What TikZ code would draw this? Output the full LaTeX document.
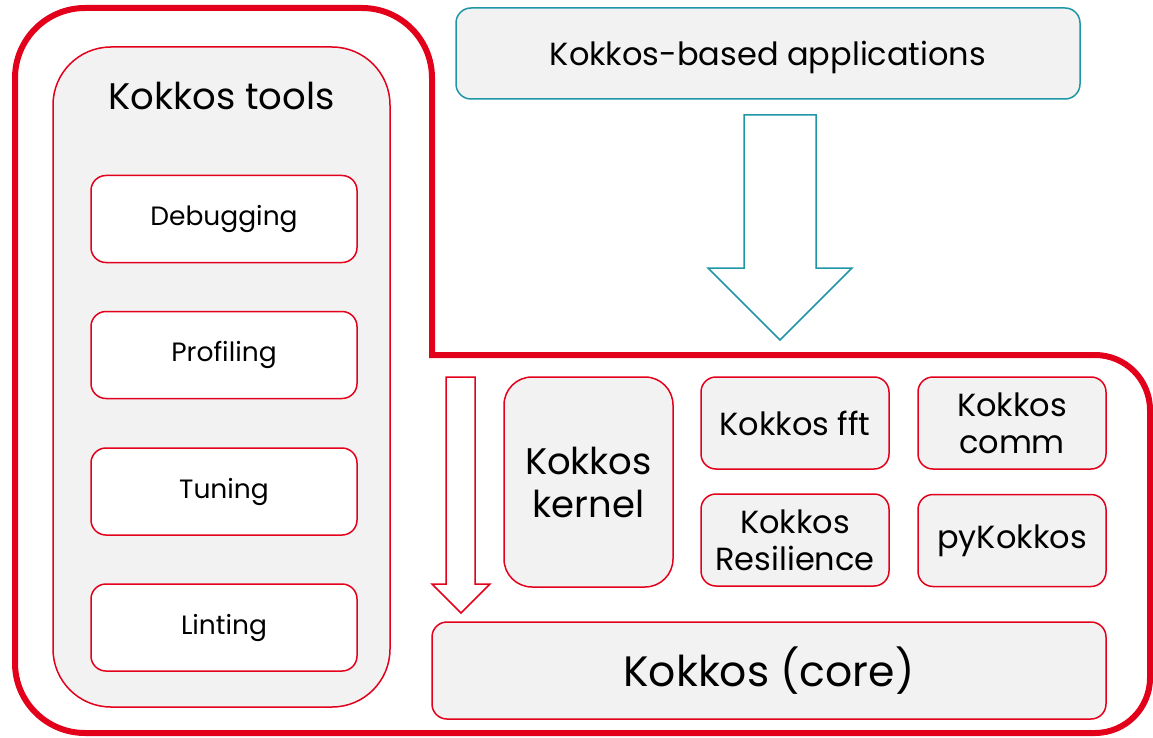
\documentclass[tikz,border=0pt]{standalone}
\usepackage{fontspec}
\setmainfont{Poppins}
\definecolor{kred}{RGB}{227,0,27}
\definecolor{kteal}{RGB}{30,150,165}
\definecolor{kgray}{RGB}{242,242,242}
\begin{document}
\begin{tikzpicture}[x=1pt,y=1pt,
  box/.style={draw=kred, line width=1.5pt, fill=kgray, rounded corners=15pt, inner sep=0pt, align=center, text=black},
  toolbox/.style={box, fill=white, minimum width=266pt, minimum height=87pt, font=\fontsize{26.5}{32}\selectfont},
  modbox/.style={box, minimum width=188pt, minimum height=92pt, font=\fontsize{32}{37}\selectfont},
  bigarrow/.style={line width=1.5pt, fill=white, line join=miter}
]
\useasboundingbox (0,0) rectangle (1153,-738);
% outer red frame
\draw[kred, line width=6pt, line join=miter]
  (432,-355) -- (1095,-355) arc (90:0:55) -- (1150,-678) arc (0:-90:55)
  -- (85,-733) arc (270:180:70) -- (15,-78) arc (180:90:70)
  -- (362,-8) arc (90:0:70) -- cycle;
% tools panel
\node[box, rounded corners=58pt, minimum width=337pt, minimum height=660pt] (tools) at (221.5,-377) {};
\node[font=\fontsize{37}{44}\selectfont] (toolstitle) at (221.5,-96) {Kokkos tools};
\node[toolbox] (debug) at (224,-219) {Debugging};
\node[toolbox] (prof) at (224,-355) {Profiling};
\node[toolbox] (tune) at (224,-491.5) {Tuning};
\node[toolbox] (lint) at (224,-627.5) {Linting};
% applications
\node[box, draw=kteal, minimum width=624pt, minimum height=91pt, font=\fontsize{32}{38}\selectfont] (apps) at (768,-53.5) {\raisebox{-4pt}[\height][\depth]{Kokkos-based applications}};
% teal arrow
\draw[bigarrow, draw=kteal] (744,-115) -- (816,-115) -- (816,-268) -- (852,-268) -- (780,-340) -- (708,-268) -- (744,-268) -- cycle;
% red arrow
\draw[bigarrow, draw=kred] (446,-377) -- (475,-377) -- (475,-584) -- (490,-584) -- (461,-613) -- (432,-584) -- (446,-584) -- cycle;
% modules
\node[box, rounded corners=28pt, minimum width=169pt, minimum height=210pt, font=\fontsize{37}{43}\selectfont] (kernel) at (588.5,-482) {Kokkos\\kernel};
\node[modbox] (fft) at (795,-423) {Kokkos fft};
\node[modbox] (resil) at (795,-540) {Kokkos\\Resilience};
\node[modbox] (comm) at (1012,-423) {Kokkos\\comm};
\node[modbox] (py) at (1012,-540.5) {pyKokkos};
\node[box, minimum width=674pt, minimum height=97pt, font=\fontsize{42.5}{50}\selectfont] (core) at (769,-670.5) {Kokkos (core)};
\end{tikzpicture}
\end{document}
